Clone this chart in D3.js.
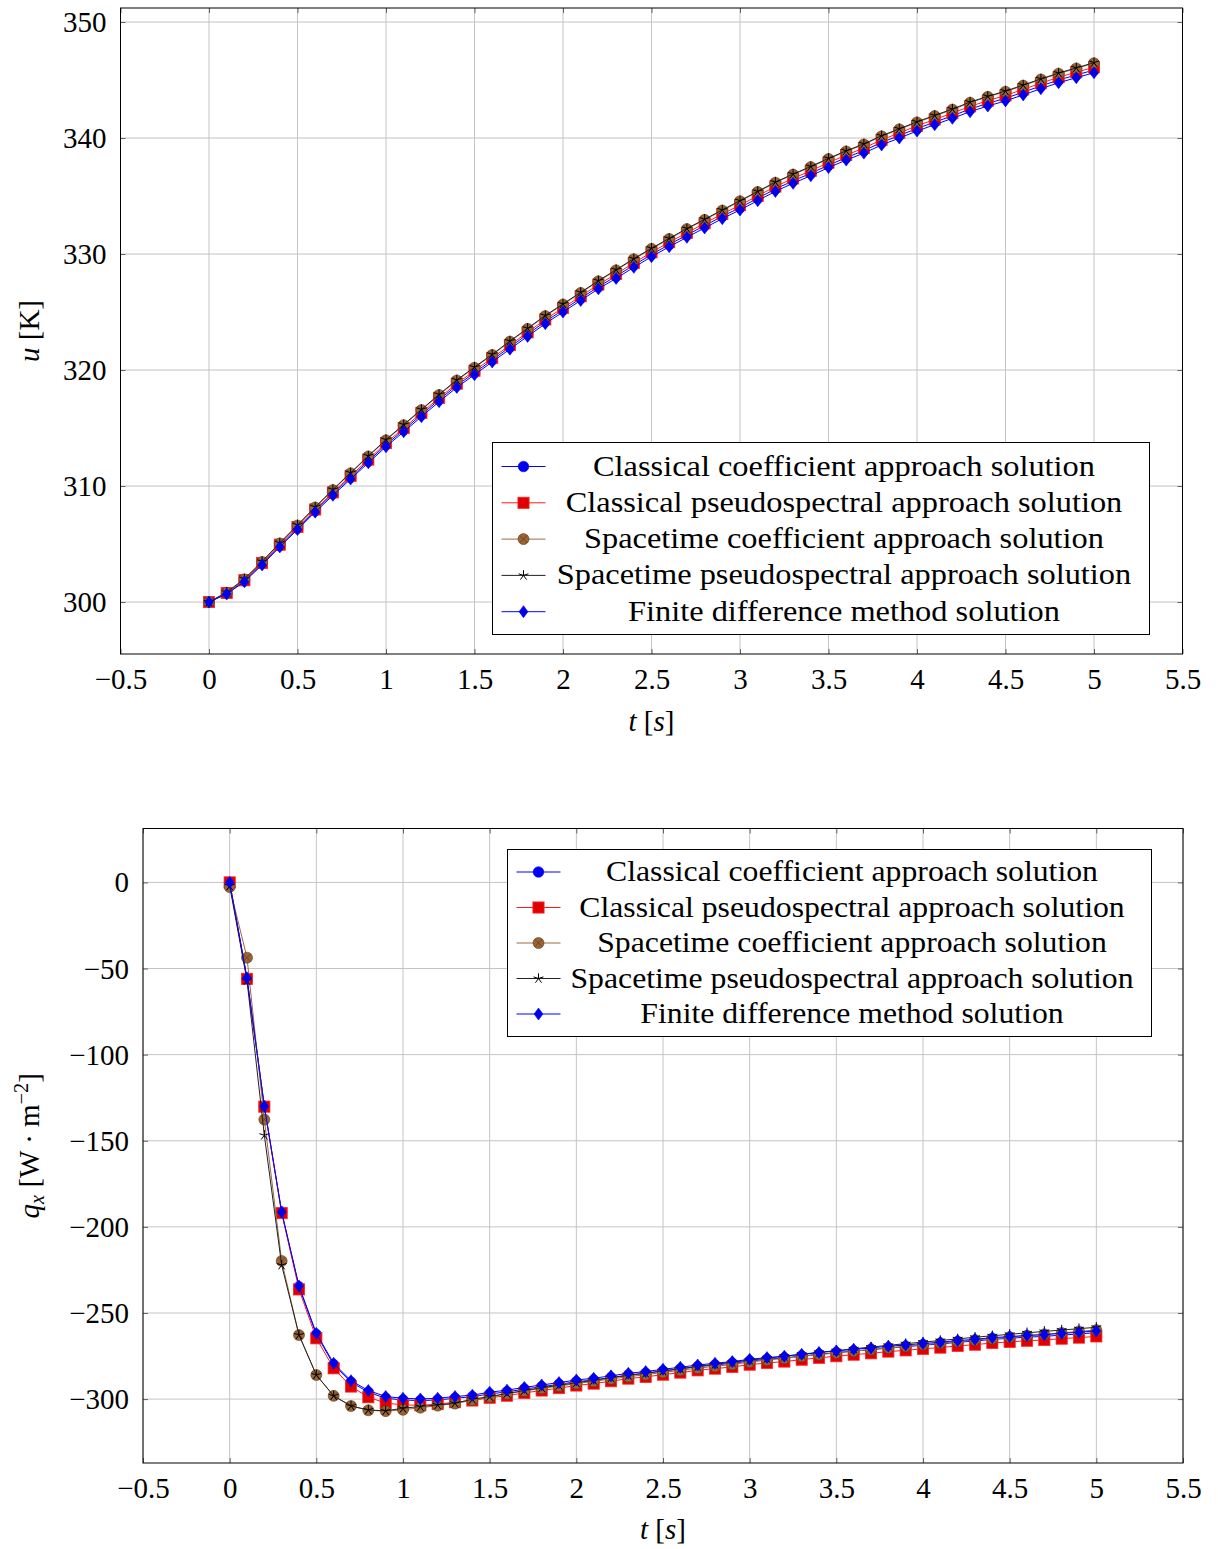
<!DOCTYPE html>
<html>
<head>
<meta charset="utf-8">
<script src="https://cdn.jsdelivr.net/npm/d3@7"></script>
<style>
  body { margin: 0; background: #fff; }
  svg { display: block; }
  text { font-family: "Liberation Serif", "Times New Roman", serif; fill: #000; }
</style>
</head>
<body>
<svg id="fig" width="1218" height="1549"></svg>
<script>
// ---- data -------------------------------------------------------------
const tValues = [0, 0.1, 0.2, 0.3, 0.4, 0.5, 0.6, 0.7, 0.8, 0.9,
  1.0, 1.1, 1.2, 1.3, 1.4, 1.5, 1.6, 1.7, 1.8, 1.9,
  2.0, 2.1, 2.2, 2.3, 2.4, 2.5, 2.6, 2.7, 2.8, 2.9,
  3.0, 3.1, 3.2, 3.3, 3.4, 3.5, 3.6, 3.7, 3.8, 3.9,
  4.0, 4.1, 4.2, 4.3, 4.4, 4.5, 4.6, 4.7, 4.8, 4.9, 5.0];

const seriesNames = [
  "Classical coefficient approach solution",
  "Classical pseudospectral approach solution",
  "Spacetime coefficient approach solution",
  "Spacetime pseudospectral approach solution",
  "Finite difference method solution"
];

// temperature u [K]
const uClassicalCoeff = [300.0, 300.74, 301.82, 303.29, 304.85, 306.36, 307.87, 309.33, 310.74, 312.14,
  313.55, 314.84, 316.14, 317.44, 318.67, 319.77, 320.87, 321.98, 323.08, 324.18,
  325.18, 326.18, 327.18, 328.09, 329.04, 329.96, 330.82, 331.64, 332.45, 333.25,
  334.0, 334.8, 335.61, 336.31, 336.96, 337.66, 338.31, 338.92, 339.62, 340.22,
  340.82, 341.37, 341.92, 342.5, 342.99, 343.43, 343.95, 344.49, 345.0, 345.44, 345.86];
const uClassicalPseudo = [300.0, 300.78, 301.88, 303.37, 304.95, 306.47, 307.98, 309.45, 310.87, 312.28,
  313.7, 315.0, 316.3, 317.6, 318.83, 319.94, 321.04, 322.15, 323.25, 324.36,
  325.36, 326.36, 327.37, 328.28, 329.23, 330.15, 331.02, 331.83, 332.65, 333.45,
  334.21, 335.01, 335.82, 336.52, 337.18, 337.88, 338.53, 339.14, 339.84, 340.44,
  341.05, 341.6, 342.15, 342.73, 343.22, 343.67, 344.19, 344.73, 345.24, 345.68, 346.1];
const uSpacetimeCoeff = [300.0, 300.8, 301.95, 303.45, 305.05, 306.6, 308.15, 309.65, 311.1, 312.55,
  313.95, 315.25, 316.55, 317.85, 319.1, 320.2, 321.3, 322.45, 323.55, 324.65,
  325.65, 326.65, 327.65, 328.6, 329.55, 330.45, 331.3, 332.15, 332.95, 333.75,
  334.55, 335.35, 336.15, 336.85, 337.5, 338.2, 338.85, 339.45, 340.15, 340.75,
  341.35, 341.9, 342.45, 343.05, 343.55, 344.0, 344.52, 345.05, 345.55, 346.0, 346.45];
const uSpacetimePseudo = [300.0, 300.85, 302.0, 303.5, 305.1, 306.65, 308.2, 309.7, 311.15, 312.6,
  314.0, 315.3, 316.6, 317.9, 319.15, 320.25, 321.35, 322.5, 323.6, 324.7,
  325.7, 326.7, 327.7, 328.65, 329.6, 330.5, 331.35, 332.2, 333.0, 333.8,
  334.6, 335.4, 336.2, 336.9, 337.55, 338.25, 338.9, 339.5, 340.2, 340.8,
  341.4, 341.95, 342.5, 343.1, 343.6, 344.05, 344.57, 345.1, 345.6, 346.05, 346.5];
const uFiniteDiff = [300.0, 300.69, 301.75, 303.2, 304.75, 306.25, 307.75, 309.2, 310.6, 312.0,
  313.39, 314.68, 315.97, 317.27, 318.5, 319.6, 320.7, 321.8, 322.9, 324.0,
  325.0, 326.0, 327.0, 327.9, 328.85, 329.77, 330.63, 331.44, 332.25, 333.05,
  333.8, 334.6, 335.4, 336.1, 336.75, 337.45, 338.1, 338.7, 339.4, 340.0,
  340.6, 341.15, 341.7, 342.27, 342.76, 343.2, 343.72, 344.25, 344.77, 345.2, 345.63];

// heat flux q_x [W m^-2]
const qClassicalCoeff = [0.0, -55.9, -130.0, -191.5, -234.8, -262.5, -280.0, -290.2, -296.0, -299.5,
  -300.5, -300.9, -300.5, -299.5, -298.6, -297.0, -295.8, -294.2, -292.8, -291.4,
  -289.9, -288.9, -287.5, -286.0, -285.0, -283.7, -282.5, -281.2, -280.2, -279.2,
  -277.9, -276.9, -276.1, -275.0, -273.9, -273.0, -272.1, -271.3, -270.3, -269.6,
  -268.7, -268.0, -267.0, -266.3, -265.3, -264.7, -264.0, -263.6, -262.8, -262.2, -261.4];
const qClassicalPseudo = [0.0, -56.0, -130.2, -192.0, -236.3, -264.7, -282.1, -292.7, -298.9, -302.3,
  -303.4, -303.6, -302.9, -301.8, -300.8, -299.2, -298.0, -296.4, -295.0, -293.6,
  -292.1, -291.0, -289.6, -288.1, -287.1, -285.8, -284.6, -283.3, -282.3, -281.3,
  -280.0, -279.0, -278.2, -277.1, -276.0, -275.1, -274.2, -273.4, -272.4, -271.7,
  -270.8, -270.1, -269.1, -268.4, -267.4, -266.8, -266.1, -265.7, -264.9, -264.3, -263.6];
const qSpacetimeCoeff = [-2.7, -43.7, -137.7, -219.8, -262.8, -286.0, -298.1, -304.0, -306.5, -307.0,
  -306.2, -305.0, -303.8, -302.6, -300.6, -298.8, -297.0, -295.3, -293.8, -292.4,
  -291.0, -289.7, -288.3, -287.0, -285.8, -284.5, -283.3, -282.0, -281.0, -279.9,
  -278.5, -277.4, -276.3, -275.2, -274.2, -273.2, -272.2, -271.2, -270.3, -269.4,
  -268.4, -267.5, -266.6, -265.7, -264.9, -264.0, -263.2, -262.4, -261.6, -260.7, -259.9];
const qSpacetimePseudo = [-2.0, -57.0, -146.8, -222.2, -262.8, -286.0, -298.1, -304.0, -306.3, -306.8,
  -305.3, -304.3, -303.4, -302.4, -300.1, -298.5, -296.7, -295.0, -293.4, -292.0,
  -290.5, -289.1, -287.6, -286.2, -284.9, -283.6, -282.3, -281.0, -279.8, -278.6,
  -277.4, -276.3, -275.1, -274.0, -272.9, -271.9, -270.8, -269.8, -268.8, -267.8,
  -266.9, -266.0, -265.0, -264.1, -263.2, -262.4, -261.5, -260.7, -259.9, -259.1, -258.3];
const qFiniteDiff = [0.0, -55.5, -130.0, -191.3, -234.3, -261.8, -279.2, -289.3, -295.0, -298.5,
  -299.5, -299.9, -299.5, -298.5, -297.7, -296.0, -294.8, -293.2, -291.8, -290.4,
  -288.9, -287.9, -286.5, -285.0, -284.0, -282.7, -281.5, -280.2, -279.2, -278.2,
  -276.9, -275.9, -275.1, -274.0, -272.9, -272.0, -271.1, -270.3, -269.3, -268.6,
  -267.7, -267.0, -266.0, -265.3, -264.3, -263.7, -263.0, -262.6, -261.8, -261.2, -260.4];

const tTicks = [-0.5, 0, 0.5, 1, 1.5, 2, 2.5, 3, 3.5, 4, 4.5, 5, 5.5];
const uTicks = [300, 310, 320, 330, 340, 350];
const qTicks = [0, -50, -100, -150, -200, -250, -300];

// ---- styles -----------------------------------------------------------
const styles = [
  { line: "#0000ff", mark: "circle",  fill: "#0000ee", stroke: "#0000ff" },
  { line: "#ff1a1a", mark: "square",  fill: "#e00000", stroke: "#ff2a2a" },
  { line: "#9a6a45", mark: "otimes",  fill: "#9a6434", stroke: "#5e3b1c" },
  { line: "#222222", mark: "star",    fill: "none",    stroke: "#000000" },
  { line: "#0000ff", mark: "diamond", fill: "#0000ee", stroke: "#0000ee" }
];

const FONT = 29;
const svg = d3.select("#fig");
const fmt = v => (v < 0 ? "\u2212" : "") + String(Math.abs(v));

function drawMark(g, st, x, y) {
  if (st.mark === "circle") {
    g.append("circle").attr("cx", x).attr("cy", y).attr("r", 5.3)
      .attr("fill", st.fill).attr("stroke", st.stroke).attr("stroke-width", 0.6);
  } else if (st.mark === "square") {
    g.append("rect").attr("x", x - 5.6).attr("y", y - 5.6).attr("width", 11.2).attr("height", 11.2)
      .attr("fill", st.fill).attr("stroke", st.stroke).attr("stroke-width", 0.8);
  } else if (st.mark === "otimes") {
    const r = 5.5, d = r * 0.7071;
    g.append("circle").attr("cx", x).attr("cy", y).attr("r", r)
      .attr("fill", st.fill).attr("stroke", st.stroke).attr("stroke-width", 0.6);
    g.append("path").attr("d", `M${x - d},${y - d}L${x + d},${y + d}M${x - d},${y + d}L${x + d},${y - d}`)
      .attr("stroke", st.stroke).attr("stroke-width", 0.7).attr("fill", "none");
  } else if (st.mark === "star") {
    const r = 5.2;
    let p = "";
    for (let k = 0; k < 5; k++) {
      const a = -Math.PI / 2 + k * 2 * Math.PI / 5;
      p += `M${x},${y}L${x + r * Math.cos(a)},${y + r * Math.sin(a)}`;
    }
    g.append("path").attr("d", p).attr("stroke", st.stroke).attr("stroke-width", 1).attr("fill", "none");
  } else if (st.mark === "diamond") {
    g.append("path").attr("d", `M${x},${y - 6}L${x + 4.4},${y}L${x},${y + 6}L${x - 4.4},${y}Z`)
      .attr("fill", st.fill).attr("stroke", st.stroke).attr("stroke-width", 0.6);
  }
}

function drawPanel(cfg) {
  const { left, right, top, bottom } = cfg.box;
  const x = d3.scaleLinear().domain([-0.5, 5.5]).range([left, right]);
  const y = d3.scaleLinear().domain(cfg.yDomain).range([bottom, top]);
  const g = svg.append("g");

  // grid
  const grid = g.append("g").attr("stroke", "#c4c4c4").attr("stroke-width", 1);
  tTicks.forEach(t => grid.append("line").attr("x1", x(t)).attr("x2", x(t)).attr("y1", top).attr("y2", bottom));
  cfg.yTicks.forEach(v => grid.append("line").attr("x1", left).attr("x2", right).attr("y1", y(v)).attr("y2", y(v)));

  // axes built from d3 axis generators, ticks pointing inward
  const axB = d3.axisBottom(x).tickValues(tTicks).tickSize(-5).tickFormat(fmt).tickPadding(14);
  const axT = d3.axisTop(x).tickValues(tTicks).tickSize(-5).tickFormat("");
  const axL = d3.axisLeft(y).tickValues(cfg.yTicks).tickSize(-5).tickFormat(fmt).tickPadding(14);
  const axR = d3.axisRight(y).tickValues(cfg.yTicks).tickSize(-5).tickFormat("");
  const styleAxis = sel => {
    sel.select(".domain").remove();
    sel.selectAll(".tick line").attr("stroke", "#555").attr("stroke-width", 0.9);
    sel.selectAll(".tick text").attr("font-size", FONT).attr("font-family", "Liberation Serif, serif").attr("fill", "#000");
  };
  g.append("g").attr("transform", `translate(0,${bottom})`).call(axB).call(styleAxis)
    .selectAll(".tick text").attr("dy", "0.72em");
  g.append("g").attr("transform", `translate(0,${top})`).call(axT).call(styleAxis);
  g.append("g").attr("transform", `translate(${left},0)`).call(axL).call(styleAxis)
    .selectAll(".tick text").attr("dy", "0.33em");
  g.append("g").attr("transform", `translate(${right},0)`).call(axR).call(styleAxis);

  // series
  const line = d3.line().x(d => x(d[0])).y(d => y(d[1]));
  cfg.series.forEach((vals, i) => {
    const st = styles[i];
    const pts = tValues.map((t, k) => [t, vals[k]]);
    const sg = g.append("g");
    sg.append("path").attr("d", line(pts)).attr("fill", "none")
      .attr("stroke", st.line).attr("stroke-width", 1);
    pts.forEach(p => drawMark(sg, st, x(p[0]), y(p[1])));
  });

  // frame
  g.append("rect").attr("x", left).attr("y", top).attr("width", right - left).attr("height", bottom - top)
    .attr("fill", "none").attr("stroke", "#000").attr("stroke-width", 1);

  // legend
  const L = cfg.legend;
  const lg = g.append("g");
  lg.append("rect").attr("x", L.x).attr("y", L.y).attr("width", L.w).attr("height", L.h)
    .attr("fill", "#fff").attr("stroke", "#000").attr("stroke-width", 1);
  const texts = [];
  seriesNames.forEach((name, i) => {
    const st = styles[i];
    const cy = L.y + L.first + i * L.step;
    lg.append("line").attr("x1", L.x + 9).attr("x2", L.x + 53).attr("y1", cy).attr("y2", cy)
      .attr("stroke", st.line).attr("stroke-width", 1);
    drawMark(lg, st, L.x + 31, cy);
    const tx = lg.append("text").attr("x", L.textCenter).attr("y", cy + 9)
      .attr("text-anchor", "middle").attr("font-size", FONT).text(name);
    texts.push(tx);
  });
  const k = L.firstWidth / texts[0].node().getComputedTextLength();
  texts.forEach(tx => {
    const w = tx.node().getComputedTextLength() * k;
    tx.attr("textLength", w).attr("lengthAdjust", "spacingAndGlyphs");
  });

  // axis titles
  const xt = g.append("text").attr("x", (left + right) / 2).attr("y", cfg.xTitleY)
    .attr("text-anchor", "middle").attr("font-size", FONT);
  xt.append("tspan").attr("font-style", "italic").text("t");
  xt.append("tspan").text(" [");
  xt.append("tspan").attr("font-style", "italic").text("s");
  xt.append("tspan").text("]");

  const yt = g.append("text").attr("transform", `translate(${cfg.yTitleX},${(top + bottom) / 2}) rotate(-90)`)
    .attr("text-anchor", "middle").attr("font-size", FONT);
  cfg.yTitle(yt);
}

drawPanel({
  box: { left: 120.5, right: 1182.5, top: 8, bottom: 654 },
  yDomain: [295.52, 351.21],
  yTicks: uTicks,
  series: [uClassicalCoeff, uClassicalPseudo, uSpacetimeCoeff, uSpacetimePseudo, uFiniteDiff],
  legend: { x: 492.5, y: 442.5, w: 657, h: 192, first: 24, step: 36.3, textCenter: 844, firstWidth: 502 },
  xTitleY: 731,
  yTitleX: 39,
  yTitle: t => {
    t.append("tspan").attr("font-style", "italic").text("u");
    t.append("tspan").text(" [K]");
  }
});

drawPanel({
  box: { left: 143, right: 1183, top: 828.5, bottom: 1463 },
  yDomain: [-337.1, 31.3],
  yTicks: qTicks,
  series: [qClassicalCoeff, qClassicalPseudo, qSpacetimeCoeff, qSpacetimePseudo, qFiniteDiff],
  legend: { x: 507.5, y: 849.5, w: 644, h: 187, first: 22.5, step: 35.5, textCenter: 852, firstWidth: 492 },
  xTitleY: 1539,
  yTitleX: 39,
  yTitle: t => {
    t.append("tspan").attr("font-style", "italic").text("q");
    t.append("tspan").attr("font-style", "italic").attr("font-size", FONT * 0.7).attr("dy", 5).text("x");
    t.append("tspan").attr("dy", -5).text(" [W \u00B7 m");
    t.append("tspan").attr("font-size", FONT * 0.7).attr("dy", -11).text("\u22122");
    t.append("tspan").attr("dy", 11).text("]");
  }
});
</script>
</body>
</html>
